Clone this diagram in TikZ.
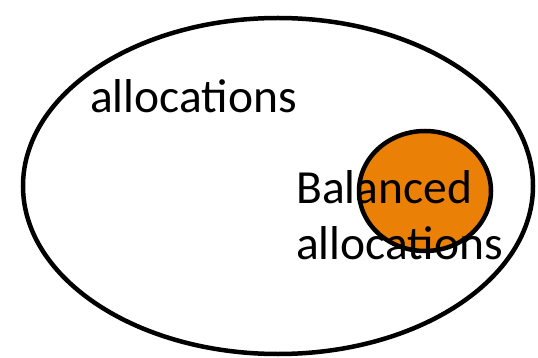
\documentclass[tikz,border=0pt]{standalone}
\usepackage{fontspec}
\setmainfont{Carlito}
\definecolor{setorange}{RGB}{234,128,6}
\begin{document}
\begin{tikzpicture}[x=1pt,y=-1pt,
  setline/.style={draw=black,line width=4.5pt},
  label/.style={anchor=base west,inner sep=0pt,font=\fontsize{47.5}{55}\selectfont}]
\useasboundingbox (0,0) rectangle (538,358);
% outer set of all allocations
\draw[setline,fill=white] (278,186) ellipse [x radius=255,y radius=168];
% subset of balanced allocations
\draw[setline,fill=setorange] (425,191) ellipse [x radius=66,y radius=60];
\node[label] (all) at (90,113) {allocations};
\node[label] (bal) at (296,204) {Balanced};
\node[label] (bal2) at (296,259) {allocations};
\end{tikzpicture}
\end{document}
